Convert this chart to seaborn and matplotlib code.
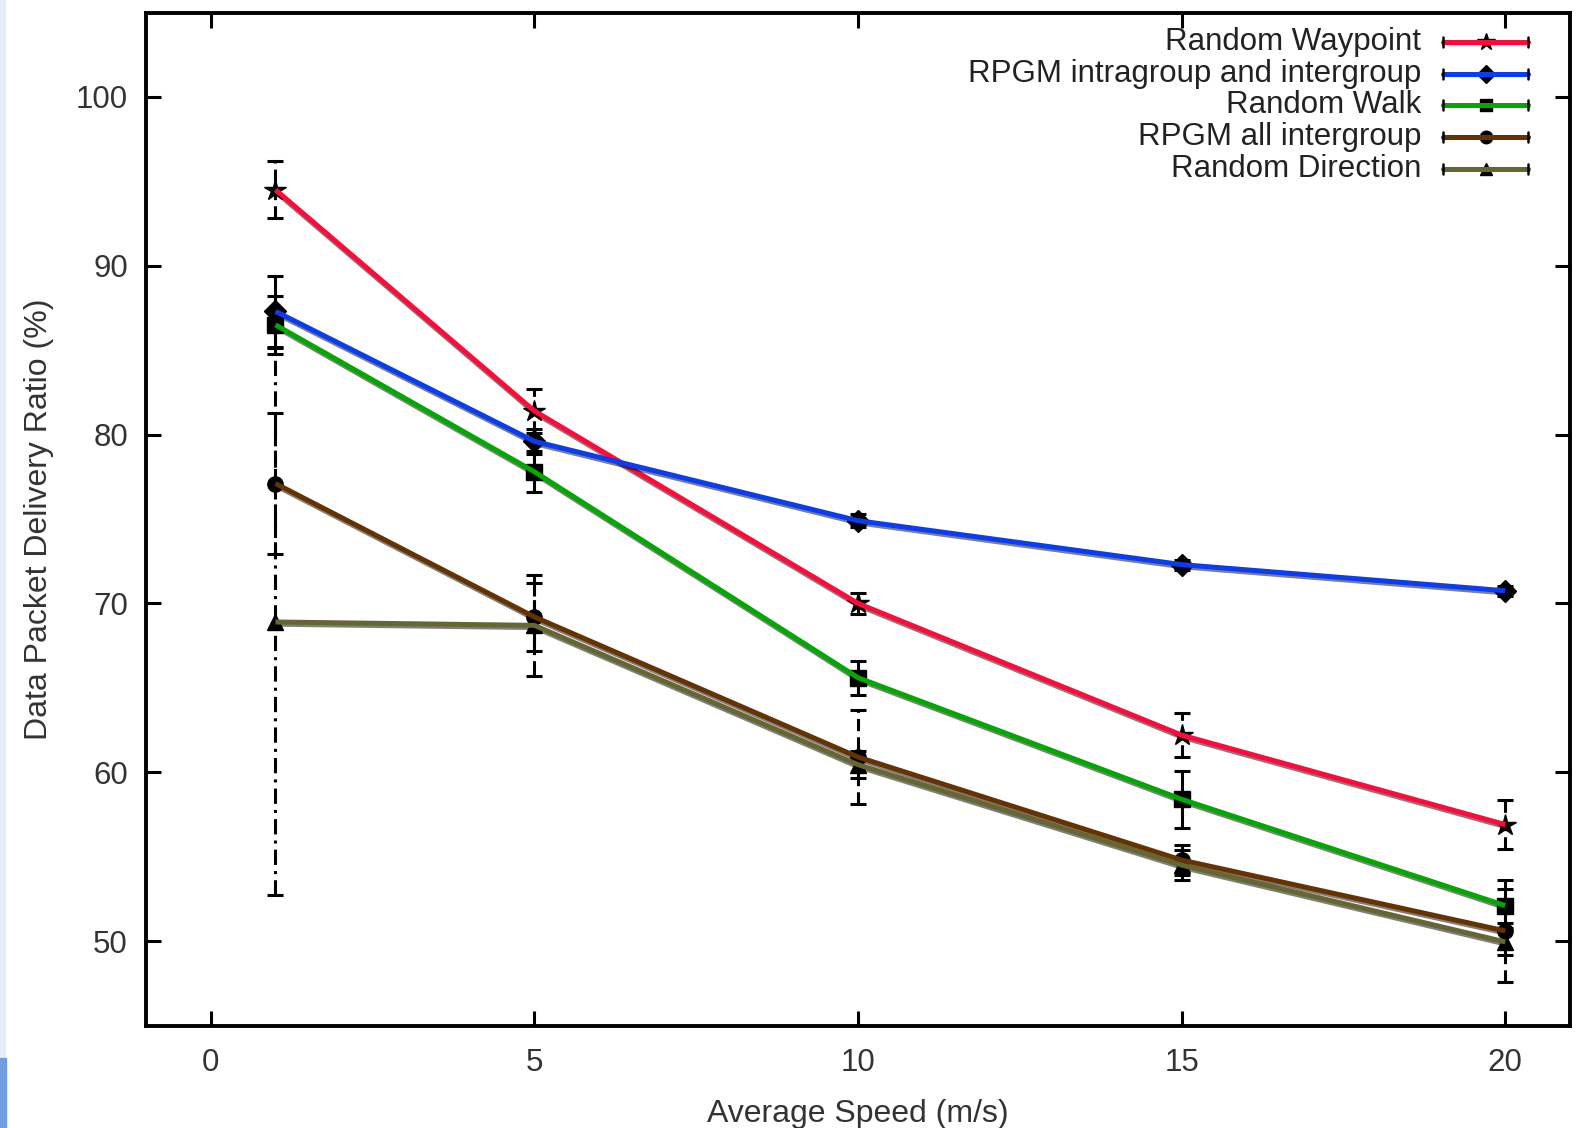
import numpy as np
import pandas as pd
import seaborn as sns
import matplotlib
matplotlib.use("Agg")
import matplotlib.pyplot as plt
import matplotlib.patheffects as pe
from matplotlib.lines import Line2D
from matplotlib.patches import Rectangle

# ---------------- data ----------------
speeds = [1, 5, 10, 15, 20]
series_names = ["Random Waypoint", "RPGM intragroup and intergroup", "Random Walk",
                "RPGM all intergroup", "Random Direction"]
random_waypoint = [94.5, 81.4, 70.0, 62.2, 56.9]
random_waypoint_err = [1.7, 1.3, 0.6, 1.3, 1.45]
rpgm_intra_inter = [87.3, 79.6, 74.9, 72.3, 70.75]
rpgm_intra_inter_err = [2.1, 0.75, 0.4, 0.3, 0.3]
random_walk = [86.5, 77.8, 65.6, 58.4, 52.1]
random_walk_err = [1.7, 1.2, 1.0, 1.7, 1.0]
rpgm_all_inter = [77.1, 69.2, 60.9, 54.8, 50.6]
rpgm_all_inter_err = [4.2, 2.0, 2.8, 0.9, 3.0]
random_direction = [68.9, 68.7, 60.45, 54.5, 49.95]
random_direction_err = [16.2, 3.0, 0.8, 0.9, 0.8]

values = [random_waypoint, rpgm_intra_inter, random_walk, rpgm_all_inter, random_direction]
errors = [random_waypoint_err, rpgm_intra_inter_err, random_walk_err,
          rpgm_all_inter_err, random_direction_err]
colors = ["#FF0A3A", "#0A3CF0", "#00A800", "#663300", "#666633"]
markers = ["*", "D", "s", "o", "^"]
err_styles = [(0, (4, 2)), "-", "-", (0, (4, 2)), (0, (5, 2, 1, 2))]

rows = []
for name, vals in zip(series_names, values):
    for s, v in zip(speeds, vals):
        rows.append({"speed": s, "ratio": v, "model": name})
df = pd.DataFrame(rows)

# ---------------- figure ----------------
sns.set_theme(style="ticks")
plt.rcParams["font.family"] = ["Liberation Sans", "DejaVu Sans"]
W, H = 1576, 1128
fig = plt.figure(figsize=(W / 100, H / 100), dpi=100)
ax = fig.add_axes([146 / W, 1 - 1025.5 / H, (1570 - 146) / W, (1025.5 - 12.5) / H])

# decorative screenshot edge
fig.patches.append(Rectangle((0, 0), 5 / W, 1, transform=fig.transFigure,
                             color="#e6edf8", zorder=-10))
fig.patches.append(Rectangle((0, 0), 6 / W, 70 / H, transform=fig.transFigure,
                             color="#6f9fe0", zorder=-9))

# error bars + black markers
for name, vals, errs, mk, ls in zip(series_names, values, errors, markers, err_styles):
    ms = 16 if mk == "*" else 11
    c = ax.errorbar(speeds, vals, yerr=errs, fmt=mk, color="black", ms=ms,
                    ecolor="black", elinewidth=2.2, capsize=6, capthick=2.2,
                    zorder=2)
    c[2][0].set_linestyle(ls)

# coloured lines via seaborn
sns.lineplot(data=df, x="speed", y="ratio", hue="model", hue_order=series_names,
             palette=colors, linewidth=3.6, ax=ax, legend=False, zorder=3,
             estimator=None, sort=False)
shadow = [pe.SimpleLineShadow(offset=(0.4, -1.6), shadow_color="black", alpha=0.5),
          pe.Normal()]
for ln in ax.lines:
    if ln.get_linewidth() > 3:
        ln.set_path_effects(shadow)
        ln.set_solid_capstyle("butt")

ax.set_xlim(-1, 21)
ax.set_ylim(45, 105)
ax.set_xticks([0, 5, 10, 15, 20])
ax.set_yticks([50, 60, 70, 80, 90, 100])
ax.tick_params(direction="in", length=11, width=2.2, labelsize=22.5, pad=13,
               top=True, right=True, labelcolor="#333333", color="black")
ax.tick_params(axis="x", pad=16)
for sp in ax.spines.values():
    sp.set_linewidth(2.8)
    sp.set_color("black")
    sp.set_visible(True)
ax.set_xlabel("Average Speed (m/s)", fontsize=23, color="#333333", labelpad=15)
ax.set_ylabel("Data Packet Delivery Ratio (%)", fontsize=23, color="#333333", labelpad=16)

# gnuplot-style legend (text right-aligned, sample on the right)
tf = fig.transFigure
row_y = [42, 74, 105, 137, 169]
for name, col, mk, yy in zip(series_names, colors, markers, row_y):
    fy = 1 - yy / H
    fig.text(1421 / W, fy, name, ha="right", va="center", fontsize=22.5, color="#222222")
    fig.add_artist(Line2D([1443 / W, 1528 / W], [fy, fy], transform=tf, color=col, lw=3.6,
                          zorder=5))
    for ex in (1443, 1528):
        fig.add_artist(Line2D([ex / W, ex / W], [fy - 5 / H, fy + 5 / H], transform=tf,
                              color="black", lw=1.8, zorder=5))
    fig.add_artist(Line2D([1486 / W], [fy], transform=tf, marker=mk, color="black",
                          ms=(13 if mk == "*" else 9), ls="none", zorder=4))

fig.savefig("out.png", dpi=100)
